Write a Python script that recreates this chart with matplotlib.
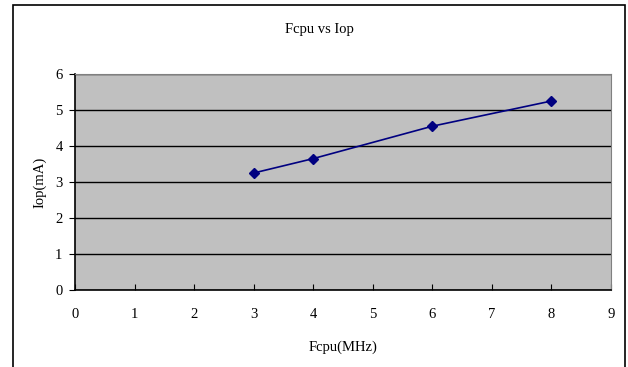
import matplotlib
matplotlib.use("Agg")
import matplotlib.pyplot as plt
from matplotlib.patches import Rectangle

# data
fcpu = [3, 4, 6, 8]
iop = [3.25, 3.65, 4.55, 5.25]
x_ticks = list(range(0, 10))
y_ticks = list(range(0, 7))

plt.rcParams["font.family"] = ["Liberation Serif", "DejaVu Serif"]

W, H = 628, 367
fig = plt.figure(figsize=(W / 100, H / 100), dpi=100)

# outer chart frame
fig.patches.append(Rectangle((13 / W, -0.05), (625 - 13) / W, 1.05 - 5 / H,
                             transform=fig.transFigure, fill=False,
                             edgecolor="black", linewidth=1.2))

ax = fig.add_axes([75 / W, 1 - 290 / H, (611 - 75) / W, (290 - 74) / H])
ax.set_facecolor("#c0c0c0")

ax.set_xlim(0, 9)
ax.set_ylim(0, 6)
ax.set_xticks(x_ticks)
ax.set_yticks(y_ticks)
ax.yaxis.grid(True, color="black", linewidth=1.0)
ax.set_axisbelow(True)

ax.plot(fcpu, iop, color="#000080", linewidth=1.2, marker="D", markersize=5)

for side in ["top", "right"]:
    ax.spines[side].set_color("#808080")
for side in ["left", "bottom"]:
    ax.spines[side].set_color("black")
    ax.spines[side].set_linewidth(1.2)

ax.tick_params(axis="x", direction="in", length=4, pad=13, labelsize=10.5)
ax.tick_params(axis="y", direction="out", length=4, pad=5, labelsize=10.5)

ax.set_xlabel("Fcpu(MHz)", fontsize=10.5, labelpad=14)
ax.set_ylabel("Iop(mA)", fontsize=10.5, labelpad=6)
fig.text(319 / W, 1 - 30 / H, "Fcpu vs Iop", ha="center", va="center", fontsize=10.5)

fig.savefig("out.png", dpi=100)
